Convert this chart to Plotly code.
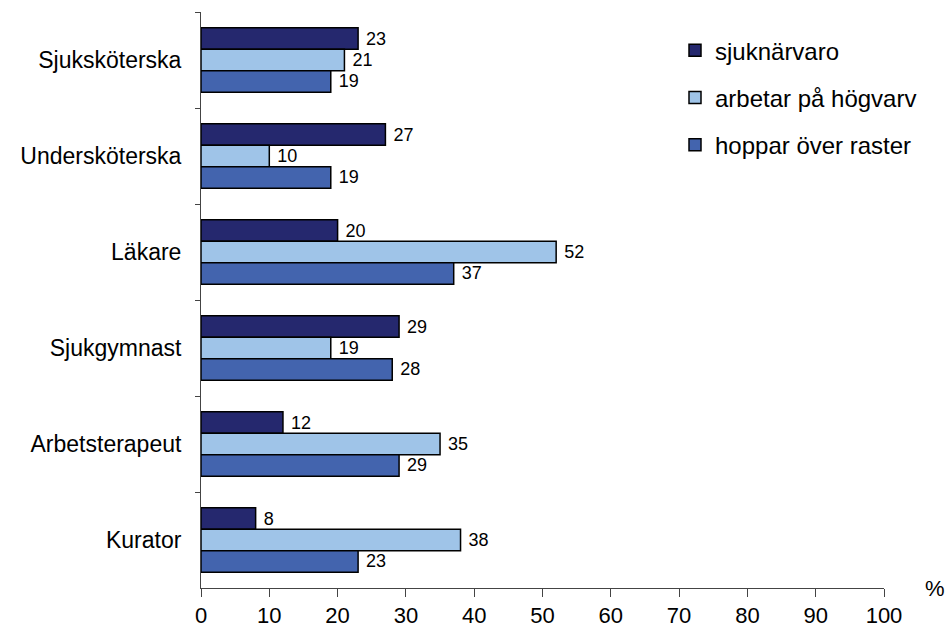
import plotly.graph_objects as go

categories = ["Sjuksköterska", "Undersköterska", "Läkare", "Sjukgymnast", "Arbetsterapeut", "Kurator"]
sjuknarvaro = [23, 27, 20, 29, 12, 8]
hogvarv = [21, 10, 52, 19, 35, 38]
raster = [19, 19, 37, 28, 29, 23]
series_names = ["sjuknärvaro", "arbetar på högvarv", "hoppar över raster"]
x_ticks = [0, 10, 20, 30, 40, 50, 60, 70, 80, 90, 100]

colors = ["#25286e", "#9fc4e8", "#4364ae"]
font = "Arial, 'Liberation Sans', sans-serif"

fig = go.Figure()
for i, (name, vals) in enumerate(zip(series_names, [sjuknarvaro, hogvarv, raster])):
    fig.add_trace(go.Bar(
        y=categories, x=vals, name=name, orientation="h",
        marker=dict(color=colors[i], line=dict(color="black", width=1.5)),
        text=[" " + str(v) for v in vals], textposition="outside",
        textfont=dict(size=18, color="black", family=font),
        cliponaxis=False, legendgroup=name,
    ))

fig.update_layout(
    width=950, height=632,
    margin=dict(l=201, r=66, t=12, b=44),
    paper_bgcolor="white", plot_bgcolor="white",
    barmode="group", bargap=0.33, bargroupgap=0,
    font=dict(family=font, size=18, color="black"),
    showlegend=True,
    legend=dict(x=0.694, y=0.972, xanchor="left", yanchor="top",
                font=dict(size=24), tracegroupgap=13,
                bgcolor="rgba(0,0,0,0)"),
    xaxis=dict(range=[0, 100], tickvals=x_ticks, ticks="outside", ticklen=8,
               tickcolor="#444", showline=True, linecolor="#444", linewidth=1,
               showgrid=False, zeroline=False, tickfont=dict(size=22),
               automargin=False),
    yaxis=dict(autorange="reversed", ticks="outside", tickson="boundaries",
               ticklen=5, tickcolor="#444", showline=True, linecolor="#444",
               linewidth=1, showgrid=False, tickfont=dict(size=23),
               ticklabelstandoff=14, automargin=False),
    uniformtext=dict(minsize=18, mode="show"),
)
fig.add_annotation(text="%", xref="paper", yref="paper", x=1.075, y=0.0,
                   xanchor="center", yanchor="middle", showarrow=False,
                   font=dict(size=22, family=font))

fig.write_html("out.html")
